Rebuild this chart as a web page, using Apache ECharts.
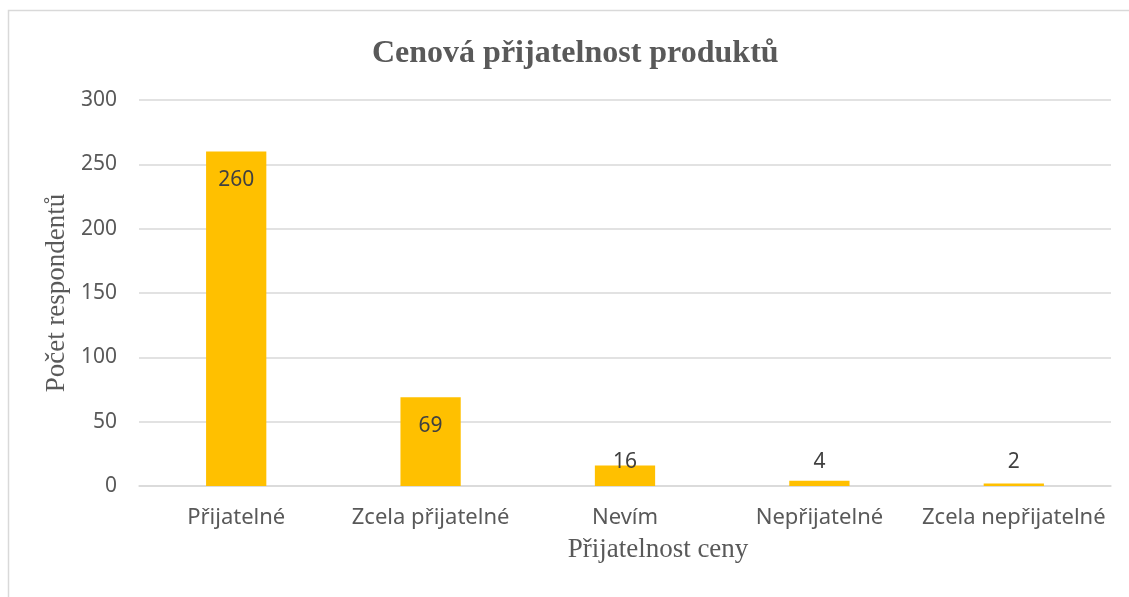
<!DOCTYPE html>
<html lang="cs">
  <head>
    <meta charset="UTF-8" />
    <title>Cenová přijatelnost produktů</title>
    <script src="https://cdn.jsdelivr.net/npm/echarts@6/dist/echarts.min.js"></script>
    <style>
      * {
        margin: 0;
        padding: 0;
      }
      body {
        background: #fff;
      }
    </style>
  </head>
  <body>
    <div id="main" style="height: 597px; width: 1129px"></div>
    <script>
      // data
      var categories = ['Přijatelné', 'Zcela přijatelné', 'Nevím', 'Nepřijatelné', 'Zcela nepřijatelné'];
      var counts = [260, 69, 16, 4, 2];

      var grey = '#595959';
      var lineGrey = '#d9d9d9';

      var myChart = echarts.init(document.getElementById('main'));
      myChart.setOption({
        animation: false,
        title: {
          text: 'Cenová přijatelnost produktů',
          left: 367, // title sits a little right of the chart centre
          top: 33,
          textStyle: {
            fontFamily: 'Liberation Serif',
            fontWeight: 'bold',
            fontSize: 32,
            color: grey
          }
        },
        // frame round the chart (only top and left edges show)
        graphic: [
          {
            type: 'polyline',
            shape: { points: [[8.5, 597], [8.5, 10.5], [1129, 10.5]] },
            style: { stroke: lineGrey, lineWidth: 1.5, fill: null }
          }
        ],
        grid: {
          left: 139,
          right: 18,
          top: 100,
          bottom: 111
        },
        xAxis: {
          type: 'category',
          data: categories,
          name: 'Přijatelnost ceny',
          nameLocation: 'middle',
          nameGap: 50,
          nameTextStyle: {
            fontFamily: 'Liberation Serif',
            fontSize: 27,
            color: grey,
            padding: [0, 0, 0, 66]
          },
          axisLine: { lineStyle: { color: lineGrey, width: 1.5 } },
          axisTick: { show: false },
          axisLabel: {
            fontFamily: 'Noto Sans',
            fontSize: 22,
            color: grey,
            margin: 21,
            interval: 0
          }
        },
        yAxis: {
          type: 'value',
          min: 0,
          max: 300,
          interval: 50,
          name: 'Počet respondentů',
          nameLocation: 'middle',
          nameGap: 69,
          nameTextStyle: {
            fontFamily: 'Liberation Serif',
            fontSize: 27,
            color: grey
          },
          axisLine: { show: false },
          axisTick: { show: false },
          splitLine: { lineStyle: { color: lineGrey, width: 1.5 } },
          axisLabel: {
            fontFamily: 'Noto Sans',
            fontSize: 21,
            color: grey,
            margin: 22
          }
        },
        series: [
          {
            type: 'bar',
            data: counts,
            barWidth: '31%',
            itemStyle: { color: '#FFC000' },
            label: {
              show: true,
              position: 'insideTop',
              distance: 18,
              fontFamily: 'Noto Sans',
              fontSize: 21,
              color: '#404040'
            },
            // short bars: the label sits at a fixed height above the axis
            labelLayout: function (p) {
              var base = p.rect.y + p.rect.height;
              var cy = p.labelRect.y + p.labelRect.height / 2;
              if (cy > base - 24) {
                return {
                  x: p.rect.x + p.rect.width / 2,
                  y: base - 24,
                  align: 'center',
                  verticalAlign: 'middle'
                };
              }
            }
          }
        ]
      });
    </script>
  </body>
</html>
